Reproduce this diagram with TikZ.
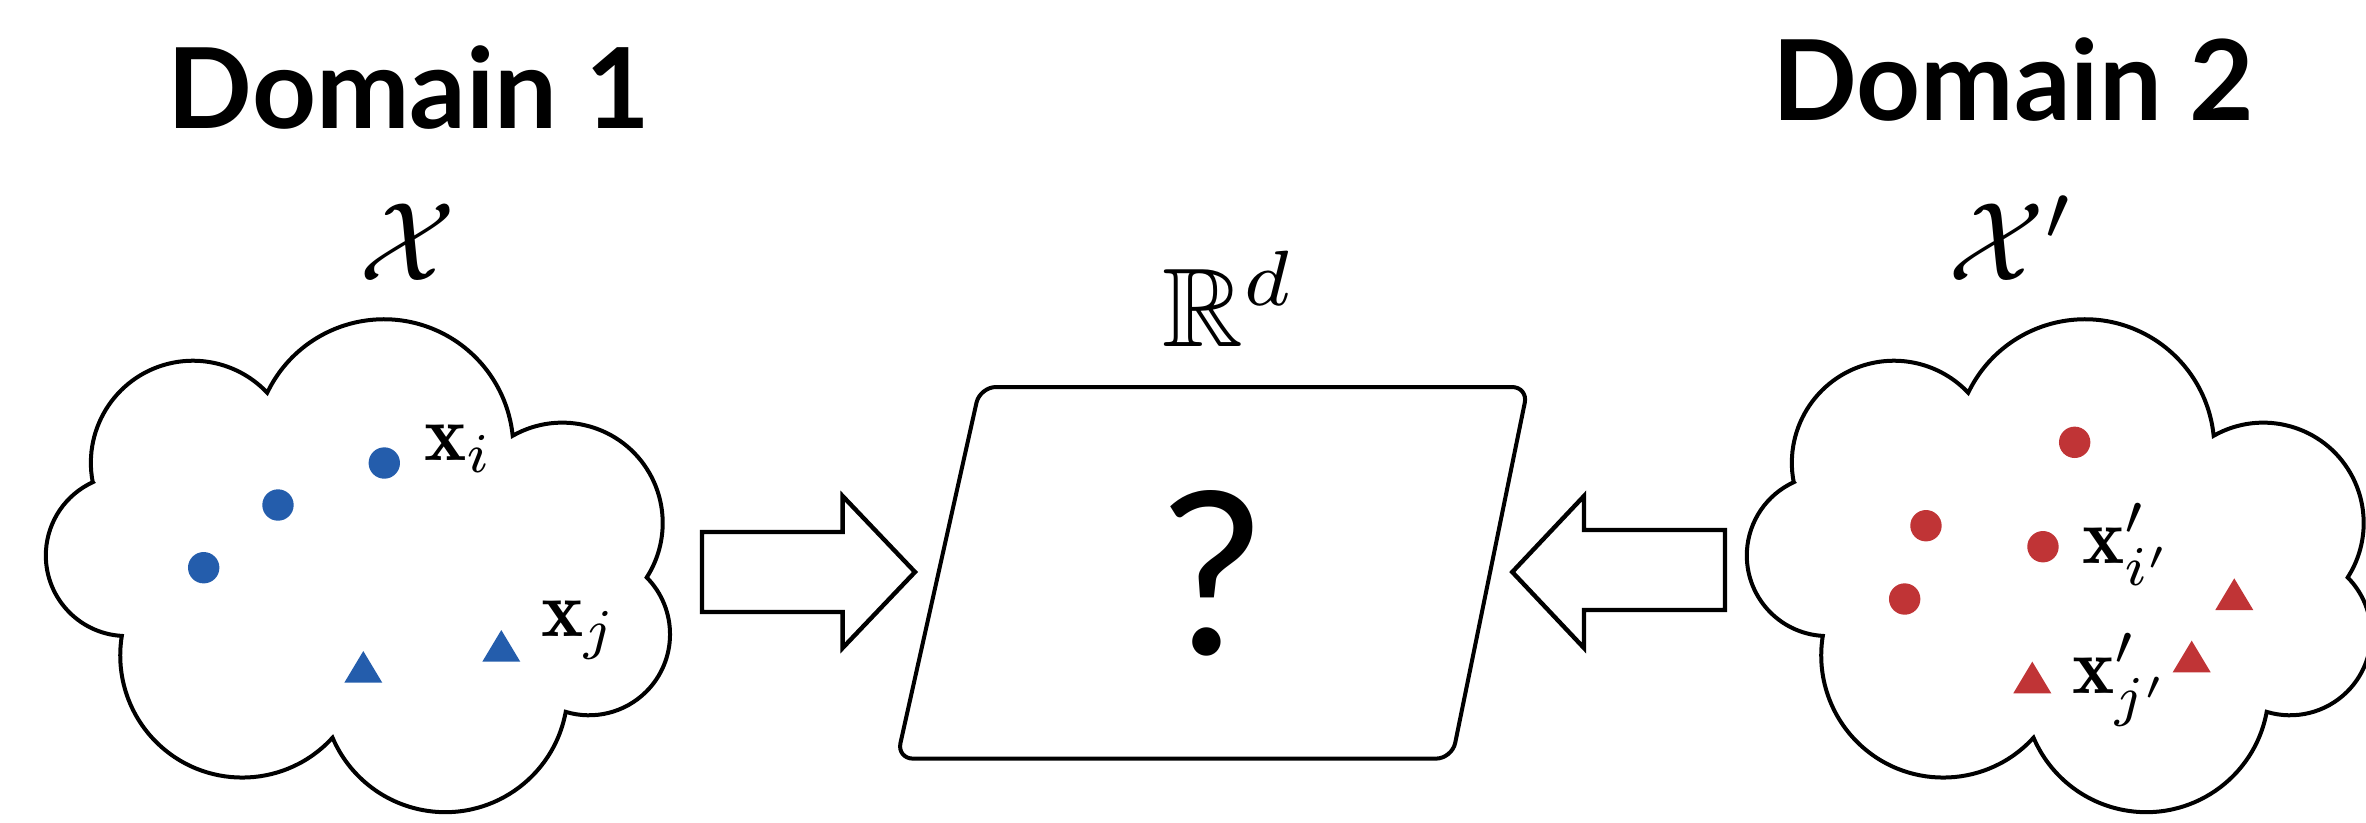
\documentclass[tikz,border=0pt]{standalone}
\usepackage{amsmath,amssymb}
\usepackage{fontspec}
\newfontfamily\latofont{Lato}
\definecolor{ptblue}{RGB}{36,93,172}
\definecolor{ptred}{RGB}{192,52,54}
\tikzset{
  outline/.style={draw=black, line width=0.5pt, line join=miter},
  blockarrow/.style={draw=black, line width=0.55pt, line join=miter},
  title/.style={inner sep=0pt, font=\latofont\bfseries\fontsize{13.96}{16}\selectfont},
  qmark/.style={inner sep=0pt, font=\latofont\fontsize{28.3}{30}\selectfont},
  mathbig/.style={inner sep=0pt, scale=1.4},
  lbl/.style={inner sep=0pt},
  bluedot/.style={circle, fill=ptblue, inner sep=0pt, minimum size=3.925pt},
  reddot/.style={circle, fill=ptred, inner sep=0pt, minimum size=3.925pt},
  tri/.pic={\fill (-19,0) -- (19,0) -- (0,31.7) -- cycle;},
  cloud/.pic={\draw[outline] (0,0)
     arc[start angle=190.84, end angle=43.33, radius=102.1]
     arc[start angle=154.4, end angle=5.72, radius=129.4]
     arc[start angle=119.63, end angle=-32.8, radius=100.4]
     arc[start angle=44.6, end angle=-106.73, radius=81]
     arc[start angle=-10.44, end angle=-156.93, radius=122.5]
     arc[start angle=-42.31, end angle=-189.24, radius=122.06]
     arc[start angle=266.73, end angle=114.63, radius=80.6]
     -- cycle;}
}
\begin{document}
\begin{tikzpicture}[x=0.125pt,y=0.125pt]
\useasboundingbox (0,0) rectangle (2366,822);
% titles
\node[title, anchor=base] (d1) at (408.7,693.5) {Domain 1};
\node[title, anchor=base] (d2) at (2013,701.4) {Domain 2};
\node[mathbig, anchor=base] (X1) at (408,542) {$\mathcal{X}$};
\node[mathbig, anchor=base] (X2) at (2012,542) {$\mathcal{X}'$};
\node[mathbig, anchor=base west] (R) at (1160,476) {$\mathbb{R}^d$};
% clouds
\pic at (92.7,340) {cloud};
\pic at (1793.7,340) {cloud};
% domain 1 points
\node[bluedot] (b1) at (384.3,359) {};
\node[bluedot] (b2) at (278,317) {};
\node[bluedot] (b3) at (203.7,254.3) {};
\pic[ptblue] at (363.3,139.3) {tri};
\pic[ptblue] at (501.3,160.3) {tri};
\node[lbl, anchor=base west] (xi) at (423,362) {$\mathbf{x}_i$};
\node[lbl, anchor=base west] (xj) at (540,185.3) {$\mathbf{x}_j$};
% domain 2 points
\node[reddot] (r1) at (2074.7,379.7) {};
\node[reddot] (r2) at (1926,296.3) {};
\node[reddot] (r3) at (2043,275.3) {};
\node[reddot] (r4) at (1904.7,223) {};
\pic[ptred] at (2234.3,212) {tri};
\pic[ptred] at (2191.7,149.7) {tri};
\pic[ptred] at (2032.3,128.7) {tri};
\node[lbl, anchor=base west] (xip) at (2081,258.7) {$\mathbf{x}'_{i'}$};
\node[lbl, anchor=base west] (xjp) at (2071,128.7) {$\mathbf{x}'_{j'}$};
% embedding space
\draw[outline, rounded corners=2pt] (980,435) -- (1528,435) -- (1452,63.4) -- (897,63.4) -- cycle;
\node[qmark, anchor=base] (q) at (1212,168) {?};
% block arrows
\draw[blockarrow] (702,210) -- (842.6,210) -- (842.6,174) -- (915,250) -- (842.6,326) -- (842.6,290) -- (702,290) -- cycle;
\draw[blockarrow] (1725,212) -- (1584,212) -- (1584,174) -- (1512.3,250) -- (1584,326) -- (1584,292) -- (1725,292) -- cycle;
\end{tikzpicture}
\end{document}
